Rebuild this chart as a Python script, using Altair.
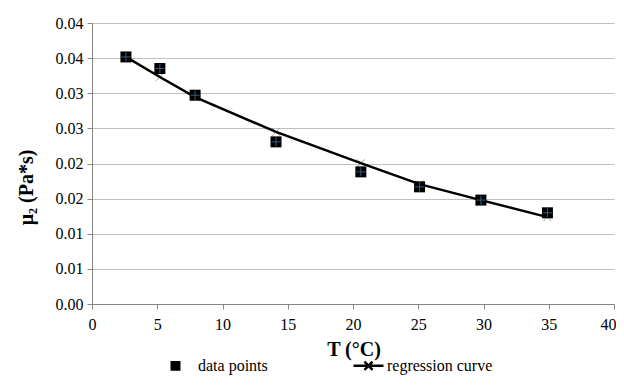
import altair as alt
import pandas as pd

# ---- data ----
T = [2.6, 5.2, 7.9, 14.1, 20.6, 25.1, 29.8, 34.9]
mu_data = [0.03517, 0.03352, 0.02972, 0.02308, 0.01881, 0.01668, 0.01479, 0.01298]
mu_reg = [0.03517, 0.03232, 0.02944, 0.02450, 0.02005, 0.01706, 0.01479, 0.01237]
series = ["data points", "regression curve"]
x_ticks = [0, 5, 10, 15, 20, 25, 30, 35, 40]
y_ticks = [0.0, 0.005, 0.01, 0.015, 0.02, 0.025, 0.03, 0.035, 0.04]

df_pts = pd.DataFrame({"T": T, "mu": mu_data, "series": series[0]})
df_reg = pd.DataFrame({"T": T, "mu": mu_reg, "series": series[1]})

FONT = "Liberation Serif"

x_enc = alt.X(
    "T:Q",
    scale=alt.Scale(domain=[0, 40], nice=False, zero=False),
    axis=alt.Axis(
        values=x_ticks, grid=False, title="T (°C)",
        titleX=261.5, titleY=45.5, titleBaseline="middle", titleAlign="center",
        tickSize=5, labelPadding=7, labelFlush=False,
        labelOffset=alt.condition("datum.value == 40", alt.value(-6), alt.value(0)),
    ),
)
y_enc = alt.Y(
    "mu:Q",
    scale=alt.Scale(domain=[0, 0.04], nice=False, zero=False),
    axis=alt.Axis(
        values=y_ticks, grid=True, title="μ₂ (Pa*s)",
        labelExpr="format(datum.value + 1e-9, '.2f')",
        titleX=-66, titleY=164, titleAngle=270, titleBaseline="middle", titleAlign="center",
        tickSize=5, labelPadding=4, labelFlush=False,
    ),
)

XPATH = "M-1,-1L1,1M-1,1L1,-1"
PLUS = "M-1,0H1M0,-1V1"
# legend square drawn as stacked thick strokes (legend symbols are stroked)
LEG_SQUARE = "M-0.6,-0.24H0.067M-0.6,-0.08H0.067M-0.6,0.08H0.067M-0.6,0.24H0.067"
LEG_REG = "M-1,0H1M-0.27,-0.27L0.27,0.27M-0.27,0.27L0.27,-0.27"

reg_x = alt.Chart(df_reg).mark_point(
    shape=XPATH, size=64, stroke="#7f7f7f", strokeWidth=1, filled=False
).encode(x=x_enc, y=y_enc)

reg_line = alt.Chart(df_reg).mark_line(color="#000", strokeWidth=2.5).encode(x=x_enc, y=y_enc)

pts = alt.Chart(df_pts).mark_point(
    shape="square", filled=True, color="#000", size=121, opacity=1
).encode(x=x_enc, y=y_enc)

pts_plus = alt.Chart(df_pts).mark_point(
    shape=PLUS, size=81, stroke="#4f81bd", strokeWidth=1, filled=False
).encode(x=x_enc, y=y_enc)

legend_layer = alt.Chart(df_pts).mark_point(filled=False, color="#000", opacity=0).encode(
    x=x_enc, y=y_enc,
    shape=alt.Shape(
        "series:N",
        scale=alt.Scale(domain=series, range=[LEG_SQUARE, LEG_REG]),
        legend=alt.Legend(
            title=None, orient="none", legendX=71, legendY=326, direction="horizontal",
            columns=2, columnPadding=80, padding=0, labelOffset=2,
            symbolSize=900, symbolStrokeWidth=2.5,
            symbolStrokeColor="#000", symbolOpacity=1,
        ),
    ),
)

chart = alt.layer(reg_x, reg_line, pts, pts_plus, legend_layer).properties(
    width=522, height=281,
    autosize=alt.AutoSizeParams(type="none"),
    padding={"left": 84, "top": 15, "right": 2, "bottom": 72},
    background="#ffffff",
).configure(font=FONT).configure_view(strokeWidth=0).configure_axis(
    labelFont=FONT, labelFontSize=16, labelColor="#000",
    titleFont=FONT, titleFontSize=20, titleFontWeight="bold", titleColor="#000",
    domainColor="#868686", tickColor="#868686", gridColor="#bfbfbf",
).configure_legend(
    labelFont=FONT, labelFontSize=16, labelColor="#000",
)

chart.save("out.html", embed_options={"renderer": "svg", "actions": False})
